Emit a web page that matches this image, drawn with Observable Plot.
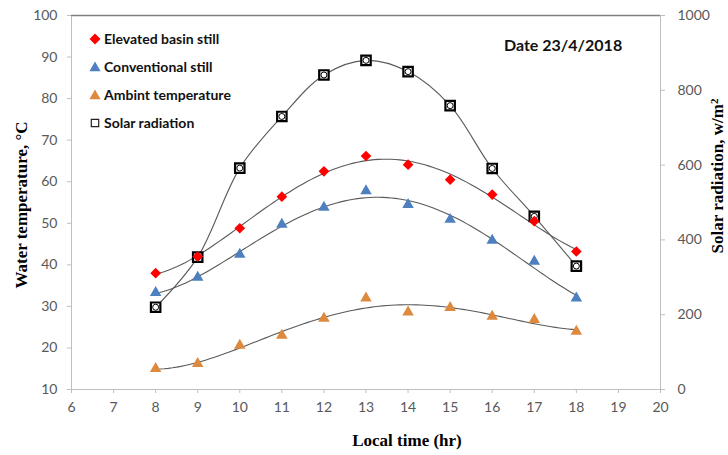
<!DOCTYPE html>
<html><head><meta charset="utf-8">
<script src="https://cdn.jsdelivr.net/npm/d3@7"></script>
<script src="https://cdn.jsdelivr.net/npm/@observablehq/plot@0.6"></script>
<style>
body{margin:0;background:#fff;}
#wrap{position:relative;width:728px;height:455px;}
</style></head><body><div id="wrap"></div>
<script>
// ---- data ----
const hours = [8, 9, 10, 11, 12, 13, 14, 15, 16, 17, 18];
const elevated = [38.0, 42.0, 48.8, 56.4, 62.5, 66.2, 64.1, 60.5, 56.9, 50.5, 43.2];
const conventional = [33.3, 37.0, 42.5, 49.7, 53.8, 57.8, 54.5, 50.9, 45.9, 40.8, 32.0];
const ambient = [15.0, 16.2, 20.6, 23.0, 27.1, 32.0, 28.6, 29.7, 27.6, 26.8, 24.0];
const solar = [220, 354, 592, 730, 841, 880, 850, 759, 591, 463, 330];
const xTicks = [6, 7, 8, 9, 10, 11, 12, 13, 14, 15, 16, 17, 18, 19, 20];
const leftTicks = [10, 20, 30, 40, 50, 60, 70, 80, 90, 100];
const rightTicks = [0, 200, 400, 600, 800, 1000];
const seriesNames = ["Elevated basin still", "Conventional still", "Ambint temperature", "Solar radiation"];
const dateText = "Date 23/4/2018";

// right axis (0..1000) mapped onto left scale (10..100)
const toLeft = v => 10 + v * 90 / 1000;
const fromLeft = d => (d - 10) * 1000 / 90;

// least-squares polynomial trendline (like a spreadsheet trendline)
function polyfit(xs, ys, deg) {
  const n = deg + 1, m = d3.mean(xs);
  const A = Array.from({length: n}, () => Array(n + 1).fill(0));
  xs.forEach((x0, i) => {
    const x = x0 - m;
    for (let r = 0; r < n; r++) {
      for (let c = 0; c < n; c++) A[r][c] += Math.pow(x, r + c);
      A[r][n] += ys[i] * Math.pow(x, r);
    }
  });
  for (let i = 0; i < n; i++) {
    let p = i;
    for (let k = i + 1; k < n; k++) if (Math.abs(A[k][i]) > Math.abs(A[p][i])) p = k;
    [A[i], A[p]] = [A[p], A[i]];
    for (let k = i + 1; k < n; k++) {
      const f = A[k][i] / A[i][i];
      for (let j = i; j <= n; j++) A[k][j] -= f * A[i][j];
    }
  }
  const c = Array(n).fill(0);
  for (let i = n - 1; i >= 0; i--) {
    let s = A[i][n];
    for (let j = i + 1; j < n; j++) s -= A[i][j] * c[j];
    c[i] = s / A[i][i];
  }
  return x => c.reduce((s, ci, k) => s + ci * Math.pow(x - m, k), 0);
}
function trend(ys) {
  const f = polyfit(hours, ys, 4);
  return d3.range(hours[0], hours[hours.length - 1] + 0.001, 0.1).map(x => ({x, y: f(x)}));
}

const pts = ys => hours.map((h, i) => ({x: h, y: ys[i]}));
const solarPts = hours.map((h, i) => ({x: h, y: toLeft(solar[i])}));

const RED = "#ff0000", BLUE = "#4e80c0", ORANGE = "#dd8a3f", LINE = "#5a5a5a";
const TICKTXT = "#595959", AXIS = "#bfbfbf";

const chart = Plot.plot({
  width: 728, height: 455,
  marginTop: 15, marginLeft: 71, marginRight: 68, marginBottom: 66,
  style: {fontFamily: "Lato, sans-serif", fontSize: "14px", background: "#fff", color: TICKTXT},
  x: {domain: [6, 20]},
  y: {domain: [10, 100]},
  marks: [
    Plot.frame({stroke: AXIS}),
    Plot.ruleY([100], {stroke: "#808080", strokeWidth: 1.5}),
    Plot.axisX(xTicks, {tickSize: 4, tickPadding: 9, label: null, stroke: AXIS, fill: TICKTXT}),
    Plot.axisY(leftTicks, {tickSize: 4, tickPadding: 10, label: null, stroke: AXIS, fill: TICKTXT}),
    Plot.axisY(rightTicks.map(toLeft), {anchor: "right", tickSize: 4, tickPadding: 13, label: null,
      stroke: AXIS, fill: TICKTXT, tickFormat: d => String(Math.round(fromLeft(d)))}),
    Plot.line(trend(elevated), {x: "x", y: "y", stroke: LINE, strokeWidth: 1.1}),
    Plot.line(trend(conventional), {x: "x", y: "y", stroke: LINE, strokeWidth: 1.1}),
    Plot.line(trend(ambient), {x: "x", y: "y", stroke: LINE, strokeWidth: 1.1}),
    Plot.line(solarPts, {x: "x", y: "y", curve: "catmull-rom", stroke: LINE, strokeWidth: 1.1}),
    Plot.dot(solarPts, {x: "x", y: "y", symbol: "square2", r: 6, fill: "#fff", stroke: "#000", strokeWidth: 2.2}),
    Plot.dot(solarPts, {x: "x", y: "y", r: 3, fill: "none", stroke: "#000", strokeWidth: 1}),
    Plot.dot(pts(ambient), {x: "x", y: "y", symbol: "triangle2", r: 5.5, fill: ORANGE, stroke: "none"}),
    Plot.dot(pts(conventional), {x: "x", y: "y", symbol: "triangle2", r: 5.5, fill: BLUE, stroke: "none"}),
    Plot.dot(pts(elevated), {x: "x", y: "y", symbol: "diamond2", r: 4.8, fill: RED, stroke: "none"})
  ]
});
document.getElementById("wrap").appendChild(chart);

// ---- titles, legend, annotation ----
const svg = d3.select(chart);
const serif = "'Liberation Serif', 'Times New Roman', serif";
svg.append("text").attr("transform", "translate(27,205) rotate(-90)")
  .attr("text-anchor", "middle").attr("fill", "#000")
  .style("font", `bold 17px ${serif}`).text("Water temperature, \u00B0C");
const rt = svg.append("text").attr("transform", "translate(723,176) rotate(-90)")
  .attr("text-anchor", "middle").attr("fill", "#000").style("font", `bold 17px ${serif}`);
rt.append("tspan").text("Solar radiation, w/m");
rt.append("tspan").attr("dy", "-0.45em").style("font-size", "11px").text("2");
svg.append("text").attr("x", 407).attr("y", 446).attr("text-anchor", "middle").attr("fill", "#000")
  .style("font", `bold 17px ${serif}`).text("Local time (hr)");
svg.append("text").attr("x", 504).attr("y", 51).attr("text-anchor", "start").attr("fill", "#111")
  .style("font", "bold 16px Lato, sans-serif").text(dateText);

const legendMarks = [
  {sym: d3.symbolDiamond2, size: 78, fill: RED, stroke: "none"},
  {sym: d3.symbolTriangle2, size: 90, fill: BLUE, stroke: "none"},
  {sym: d3.symbolTriangle2, size: 90, fill: ORANGE, stroke: "none"},
  {sym: d3.symbolSquare2, size: 70, fill: "#fff", stroke: "#222", sw: 1.2}
];
const lg = svg.append("g");
seriesNames.forEach((name, i) => {
  const cy = 39 + i * 28;
  const m = legendMarks[i];
  lg.append("path").attr("d", d3.symbol(m.sym, m.size)()).attr("transform", `translate(95,${cy + (i === 1 || i === 2 ? 1 : 0)})`)
    .attr("fill", m.fill).attr("stroke", m.stroke).attr("stroke-width", m.sw || 0);
  lg.append("text").attr("x", 104).attr("y", cy).attr("dy", "0.36em").attr("text-anchor", "start").attr("fill", "#111")
    .style("font", "bold 14px Lato, sans-serif").text(name);
});
</script>
</body></html>
